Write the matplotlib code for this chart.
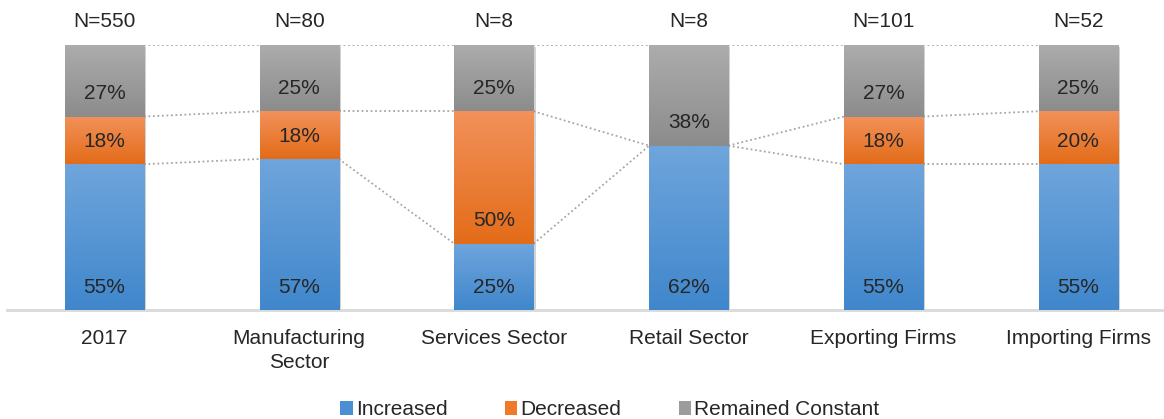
import matplotlib.pyplot as plt
import matplotlib.patheffects as pe
from matplotlib.patches import Patch
import numpy as np

plt.rcParams['font.family'] = ['Liberation Sans', 'DejaVu Sans']

categories = ['2017', 'Manufacturing\nSector', 'Services Sector', 'Retail Sector',
              'Exporting Firms', 'Importing Firms']
n_labels = ['N=550', 'N=80', 'N=8', 'N=8', 'N=101', 'N=52']
increased = [55, 57, 25, 62, 55, 55]
decreased = [18, 18, 50, 0, 18, 20]
constant = [27, 25, 25, 38, 27, 25]

series = [('Increased', increased), ('Decreased', decreased), ('Remained Constant', constant)]
# top / bottom colours of each gradient
grad = {
    'Increased': ((111, 165, 220), (64, 135, 204)),
    'Decreased': ((242, 145, 90), (227, 108, 25)),
    'Remained Constant': ((172, 172, 172), (140, 140, 140)),
}
legend_cols = {'Increased': '#4a8fd3', 'Decreased': '#ef7a2c', 'Remained Constant': '#9c9c9c'}
text_col = '#262626'

fig = plt.figure(figsize=(11.64, 4.19), dpi=100)
ax = fig.add_axes([7 / 1164, 0.2601, 1 - 7 / 1164, 0.6325])

x = np.arange(len(categories))
width = 0.406
bottom = np.zeros(len(categories))
tops = []

for name, vals in series:
    vals = np.array(vals, dtype=float)
    bars = ax.bar(x, vals, width, bottom=bottom, color='none', edgecolor='none', zorder=3)
    c1, c2 = grad[name]
    g = np.linspace(0, 1, 64)[:, None]
    img = (np.array(c1)[None, :] * (1 - g) + np.array(c2)[None, :] * g) / 255.0
    img = img[:, None, :]
    for b, v in zip(bars, vals):
        if v <= 0:
            continue
        bx, by, bw, bh = b.get_x(), b.get_y(), b.get_width(), b.get_height()
        sh = plt.Rectangle((bx, by), bw, bh, facecolor='white', edgecolor='none', zorder=2,
                           path_effects=[pe.SimplePatchShadow(offset=(1.5, -1.5), alpha=0.25)])
        ax.add_patch(sh)
        ax.imshow(img, extent=[bx, bx + bw, by, by + bh], origin='upper', aspect='auto',
                  zorder=3, interpolation='bilinear')
        ax.annotate(f'{int(v)}%', (bx + bw / 2, by), xytext=(0, 16.5),
                    textcoords='offset points', ha='center', va='center',
                    fontsize=15, color=text_col, zorder=5)
    bottom = bottom + vals
    tops.append(bottom.copy())

# series lines between bars
for t in tops:
    for i in range(len(categories) - 1):
        ax.plot([x[i] + width / 2, x[i + 1] - width / 2], [t[i], t[i + 1]],
                color='#a6a6a6', lw=1.3, linestyle=(0, (1, 1.5)), zorder=1)

for xi, lab in zip(x, n_labels):
    ax.annotate(lab, (xi, 100), xytext=(0, 17), textcoords='offset points',
                ha='center', va='center', fontsize=15, color=text_col)

ax.set_xlim(-0.5, 5.44)
ax.set_ylim(0, 100)
ax.set_xticks(x)
ax.set_xticklabels(categories, fontsize=15, color=text_col, linespacing=1.35)
ax.tick_params(axis='x', length=0, pad=13.5)
ax.set_yticks([])
for s in ['top', 'right', 'left']:
    ax.spines[s].set_visible(False)
ax.spines['bottom'].set_color('#d9d9d9')
ax.spines['bottom'].set_linewidth(2)

handles = [Patch(facecolor=legend_cols[n], edgecolor='none', label=n) for n, _ in series]
fig.legend(handles=handles, loc='center', bbox_to_anchor=(0.524, 0.022), ncol=3,
           frameon=False, fontsize=15, handlelength=0.6, handleheight=0.6,
           handletextpad=0.15, columnspacing=2.75, labelcolor=text_col)

fig.savefig('out.png', dpi=100)
